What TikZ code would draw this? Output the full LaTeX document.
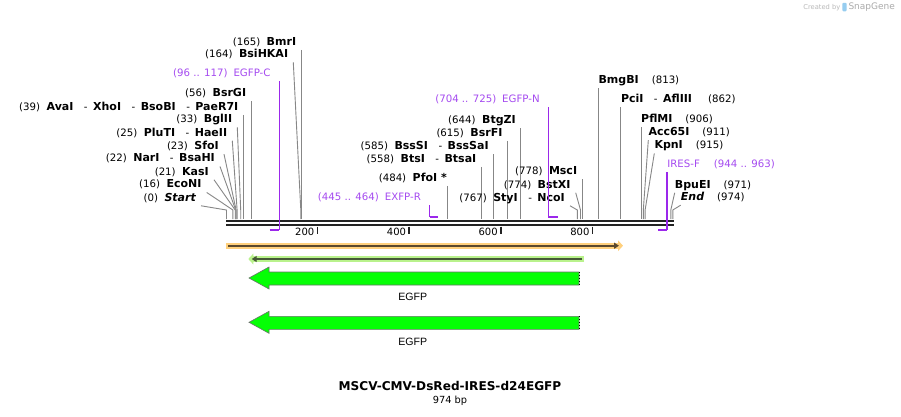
\documentclass[tikz,border=0pt]{standalone}
\usepackage{fontspec}
\setmainfont{DejaVu Sans}
\newfontfamily\featfont{Liberation Sans}
\usetikzlibrary{positioning,arrows.meta}

\definecolor{primerPurple}{RGB}{155,40,235}
\definecolor{primerText}{RGB}{165,75,240}
\definecolor{leaderGray}{RGB}{135,135,135}
\definecolor{backbone}{RGB}{35,35,35}
\definecolor{orfOrange}{RGB}{255,208,125}
\definecolor{orfGreen}{RGB}{185,242,140}
\definecolor{orfBrown}{RGB}{90,72,45}
\definecolor{orfOlive}{RGB}{70,88,55}
\definecolor{featGreen}{RGB}{5,255,5}
\definecolor{featEdge}{RGB}{105,115,105}
\definecolor{wmGray}{RGB}{185,185,185}
\definecolor{wmBlue}{RGB}{150,205,240}

\newcommand{\nm}[1]{{\fontsize{11}{12}\selectfont\bfseries #1}}
\newcommand{\gp}{\hspace{6.5pt}}
\newcommand{\dsh}{\hspace{10.5pt}-\hspace{5.5pt}}
\newcommand{\rg}{\hspace{13pt}}

\tikzset{
  lsite/.style={anchor=east, inner xsep=5pt, inner ysep=2.5pt, text height=7.5pt, text depth=2pt, font=\fontsize{10.2}{11}\selectfont},
  rsite/.style={lsite, anchor=west, inner xsep=0pt},
  plabel/.style={lsite, inner xsep=8.5pt, text=primerText},
  leader/.style={draw=leaderGray, line width=0.9pt},
  primer/.style={draw=primerPurple, line width=1.3pt},
  primerfoot/.style={draw=primerPurple, line width=2pt},
  strand/.style={draw=backbone, line width=2.5pt},
  tickmark/.style={draw=backbone, line width=1.6pt},
  ticklabel/.style={anchor=east, inner sep=0pt, font=\fontsize{10}{11}\selectfont},
  orfband/.style={line width=6pt, draw=#1, -{Triangle[length=5pt,width=10.5pt,color=#1,fill=#1]}},
  orfline/.style={line width=1.8pt, draw=#1, -{Triangle[length=5pt,width=6pt]}},
  egfp/.style={fill=featGreen, draw=featEdge, line width=0.6pt},
  cutend/.style={draw=black, line width=0.9pt, dotted},
  featlabel/.style={inner sep=0pt, font=\featfont\fontsize{10.6}{12}\selectfont},
}

\begin{document}
\begin{tikzpicture}[x=1pt,y=-1pt]
  \path[fill=white, use as bounding box] (0,0) rectangle (901,416);

  % backbone and ruler
  \coordinate (bbL1) at (226,221.2); \coordinate (bbR1) at (674,221.2);
  \coordinate (bbL2) at (226,225);   \coordinate (bbR2) at (674,225);
  \draw[strand] (bbL1) -- (bbR1);
  \draw[strand] (bbL2) -- (bbR2);

  \coordinate (t200) at (317.3,226.5);
  \coordinate (t400) at (409.0,226.5);
  \coordinate (t600) at (500.7,226.5);
  \coordinate (t800) at (592.4,226.5);
  \draw[tickmark] (t200) -- ++(0,7);
  \draw[tickmark] (t400) -- ++(0,7);
  \draw[tickmark] (t600) -- ++(0,7);
  \draw[tickmark] (t800) -- ++(0,7);
  \node[ticklabel] (n200) at (314.5,232) {200};
  \node[ticklabel] (n400) at (406.2,232) {400};
  \node[ticklabel] (n600) at (497.9,232) {600};
  \node[ticklabel] (n800) at (589.6,232) {800};

  % sites on the left
  \node[lsite] (sBmrI) at (301.3,42.3) {(165)\gp\nm{BmrI}};
  \coordinate (b165) at (301.3,219);
  \draw[leader] (sBmrI.south east) -- (b165);

  \node[lsite] (sBsiHKAI) at (293.3,55) {(164)\gp\nm{BsiHKAI}};
  \coordinate (k164) at (300.8,210); \coordinate (b164) at (300.8,219);
  \draw[leader] (sBsiHKAI.south east) -- (k164) -- (b164);

  \node[lsite] (sBsrGI) at (251.3,94) {(56)\gp\nm{BsrGI}};
  \coordinate (b56) at (251.3,219);
  \draw[leader] (sBsrGI.south east) -- (b56);

  \node[lsite] (sAvaI) at (243.5,107.3) {(39)\gp\nm{AvaI}\dsh\nm{XhoI}\dsh\nm{BsoBI}\dsh\nm{PaeR7I}};
  \coordinate (b39) at (243.5,219);
  \draw[leader] (sAvaI.south east) -- (b39);

  \node[lsite] (sBglII) at (237.3,120) {(33)\gp\nm{BglII}};
  \coordinate (k33) at (240.7,210); \coordinate (b33) at (240.7,219);
  \draw[leader] (sBglII.south east) -- (k33) -- (b33);

  \node[lsite] (sPluTI) at (232.3,133.3) {(25)\gp\nm{PluTI}\dsh\nm{HaeII}};
  \coordinate (k25) at (237.1,210); \coordinate (b25) at (237.1,219);
  \draw[leader] (sPluTI.south east) -- (k25) -- (b25);

  \node[lsite] (sSfoI) at (224,146.7) {(23)\gp\nm{SfoI}};
  \coordinate (k23) at (236.1,210); \coordinate (b23) at (236.1,219);
  \draw[leader] (sSfoI.south east) -- (k23) -- (b23);

  \node[lsite] (sNarI) at (220,159) {(22)\gp\nm{NarI}\dsh\nm{BsaHI}};
  \coordinate (k22) at (235.7,210); \coordinate (b22) at (235.7,219);
  \draw[leader] (sNarI.south east) -- (k22) -- (b22);

  \node[lsite] (sKasI) at (214,172.3) {(21)\gp\nm{KasI}};
  \coordinate (k21) at (235.2,210); \coordinate (b21) at (235.2,219);
  \draw[leader] (sKasI.south east) -- (k21) -- (b21);

  \node[lsite] (sEcoNI) at (206.7,185) {(16)\gp\nm{EcoNI}};
  \coordinate (k16) at (232.9,210); \coordinate (b16) at (232.9,219);
  \draw[leader] (sEcoNI.south east) -- (k16) -- (b16);

  \node[lsite] (sStart) at (201,198.3) {(0)\gp\nm{\itshape Start}};
  \coordinate (k0) at (226.5,210); \coordinate (b0) at (226.5,219);
  \draw[leader] (sStart.south east) -- (k0) -- (b0);

  % sites in the middle
  \node[lsite, inner xsep=0.5pt] (sPfoI) at (447.5,178.3) {(484)\gp\nm{PfoI *}};
  \coordinate (b484) at (447.5,219);
  \draw[leader] (sPfoI.south east) -- (b484);

  \node[lsite] (sBtsI) at (481.5,159.3) {(558)\gp\nm{BtsI}\dsh\nm{BtsaI}};
  \coordinate (b558) at (481.5,219);
  \draw[leader] (sBtsI.south east) -- (b558);

  \node[lsite] (sBssSI) at (493.8,146.7) {(585)\gp\nm{BssSI}\dsh\nm{BssSaI}};
  \coordinate (b585) at (493.8,219);
  \draw[leader] (sBssSI.south east) -- (b585);

  \node[lsite] (sBsrFI) at (507.6,133.3) {(615)\gp\nm{BsrFI}};
  \coordinate (b615) at (507.6,219);
  \draw[leader] (sBsrFI.south east) -- (b615);

  \node[lsite] (sBtgZI) at (520.9,120.7) {(644)\gp\nm{BtgZI}};
  \coordinate (b644) at (520.9,219);
  \draw[leader] (sBtgZI.south east) -- (b644);

  \node[lsite] (sStyI) at (570,198.3) {(767)\gp\nm{StyI}\dsh\nm{NcoI}};
  \coordinate (k767) at (577.3,210); \coordinate (b767) at (577.3,219);
  \draw[leader] (sStyI.south east) -- (k767) -- (b767);

  \node[lsite] (sBstXI) at (575.7,185.3) {(774)\gp\nm{BstXI}};
  \coordinate (k774) at (580.5,210); \coordinate (b774) at (580.5,219);
  \draw[leader] (sBstXI.south east) -- (k774) -- (b774);

  \node[lsite] (sMscI) at (582.3,172) {(778)\gp\nm{MscI}};
  \coordinate (b778) at (582.3,219);
  \draw[leader] (sMscI.south east) -- (b778);

  % sites on the right
  \node[rsite] (sBmgBI) at (598.4,81) {\nm{BmgBI}\rg(813)};
  \coordinate (b813) at (598.4,219);
  \draw[leader] (sBmgBI.south west) -- (b813);

  \node[rsite] (sPciI) at (620.8,100) {\nm{PciI}\dsh\nm{AflIII}\hspace{16pt}(862)};
  \coordinate (b862) at (620.8,219);
  \draw[leader] (sPciI.south west) -- (b862);

  \node[rsite] (sPflMI) at (641,120) {\nm{PflMI}\rg(906)};
  \coordinate (b906) at (641,219);
  \draw[leader] (sPflMI.south west) -- (b906);

  \node[rsite] (sAcc65I) at (648.3,132.7) {\nm{Acc65I}\rg(911)};
  \coordinate (k911) at (643.3,210); \coordinate (b911) at (643.3,219);
  \draw[leader] (sAcc65I.south west) -- (k911) -- (b911);

  \node[rsite] (sKpnI) at (654.3,146) {\nm{KpnI}\rg(915)};
  \coordinate (k915) at (645.1,210); \coordinate (b915) at (645.1,219);
  \draw[leader] (sKpnI.south west) -- (k915) -- (b915);

  \node[rsite] (sBpuEI) at (674.7,185.3) {\nm{BpuEI}\rg(971)};
  \coordinate (k971) at (670.8,210); \coordinate (b971) at (670.8,219);
  \draw[leader] (sBpuEI.south west) -- (k971) -- (b971);

  \node[rsite] (sEnd) at (680.7,197.7) {\nm{\itshape End}\rg(974)};
  \coordinate (k974) at (672.8,210); \coordinate (b974) at (672.8,219);
  \draw[leader] (sEnd.south west) -- (k974) -- (b974);

  % primers
  \node[plabel] (pEGFPC) at (279.2,74) {(96 .. 117)\hspace{6pt}EGFP-C};
  \coordinate (q96) at (269.6,230); \coordinate (q117) at (279.2,230);
  \draw[primer] (pEGFPC.south east) -- (q117);
  \draw[primerfoot] (q96) -- (q117);

  \node[plabel] (pEXFPR) at (429.6,198) {(445 .. 464)\hspace{6pt}EXFP-R};
  \coordinate (q445) at (429.6,216.5); \coordinate (q464) at (438.3,216.5);
  \draw[primer] (pEXFPR.south east) -- (q445);
  \draw[primerfoot] (q445) -- (q464);

  \node[plabel] (pEGFPN) at (548.4,100) {(704 .. 725)\hspace{6pt}EGFP-N};
  \coordinate (q704) at (548.4,216.5); \coordinate (q725) at (558,216.5);
  \draw[primer] (pEGFPN.south east) -- (q704);
  \draw[primerfoot] (q704) -- (q725);

  \node[plabel, anchor=west, inner xsep=0pt] (pIRESF) at (667.1,165) {IRES-F\hspace{14pt}(944 .. 963)};
  \coordinate (q944) at (658.4,230); \coordinate (q963) at (667.1,230);
  \draw[primer] (pIRESF.south west) -- (q963);
  \draw[primerfoot] (q944) -- (q963);

  % open reading frames
  \coordinate (oA) at (226,245.7);   \coordinate (oB) at (623,245.7);
  \coordinate (oa) at (228.3,245.7); \coordinate (ob) at (619,245.7);
  \draw[orfband=orfOrange] (oA) -- (oB);
  \draw[orfline=orfBrown] (oa) -- (ob);

  \coordinate (gA) at (584,259);   \coordinate (gB) at (248.3,259);
  \coordinate (ga) at (581.7,259); \coordinate (gb) at (251.7,259);
  \draw[orfband=orfGreen] (gA) -- (gB);
  \draw[orfline=orfOlive] (ga) -- (gb);

  % EGFP features
  \draw[egfp] (579,272) -- (269,272) -- (269,267) -- (249,278) -- (269,289) -- (269,285) -- (579,285) -- cycle;
  \draw[cutend] (579,272) -- (579,285);
  \node[featlabel] (fEGFPa) at (412.7,297.3) {EGFP};

  \draw[egfp] (579,316.3) -- (269,316.3) -- (269,311.3) -- (249,322.3) -- (269,333.3) -- (269,329.3) -- (579,329.3) -- cycle;
  \draw[cutend] (579,316.3) -- (579,329.3);
  \node[featlabel] (fEGFPb) at (412.7,341.6) {EGFP};

  % title
  \node[inner sep=0pt, font=\fontsize{12.1}{13}\selectfont\bfseries] (title) at (450,386) {MSCV-CMV-DsRed-IRES-d24EGFP};
  \node[inner sep=0pt, font=\fontsize{9.8}{11}\selectfont] (length) at (450,400.7) {974 bp};

  % watermark
  \node[anchor=east, inner sep=0pt, text=wmGray, font=\fontsize{6.7}{8}\selectfont] (wmA) at (840.5,7.5) {Created by};
  \fill[wmBlue, rounded corners=1pt] (842.3,2.8) rectangle (846.6,11.3);
  \node[anchor=west, inner sep=0pt, text=wmGray!120, font=\fontsize{9}{10}\selectfont] (wmB) at (848.3,7.3) {SnapGene};
\end{tikzpicture}
\end{document}
